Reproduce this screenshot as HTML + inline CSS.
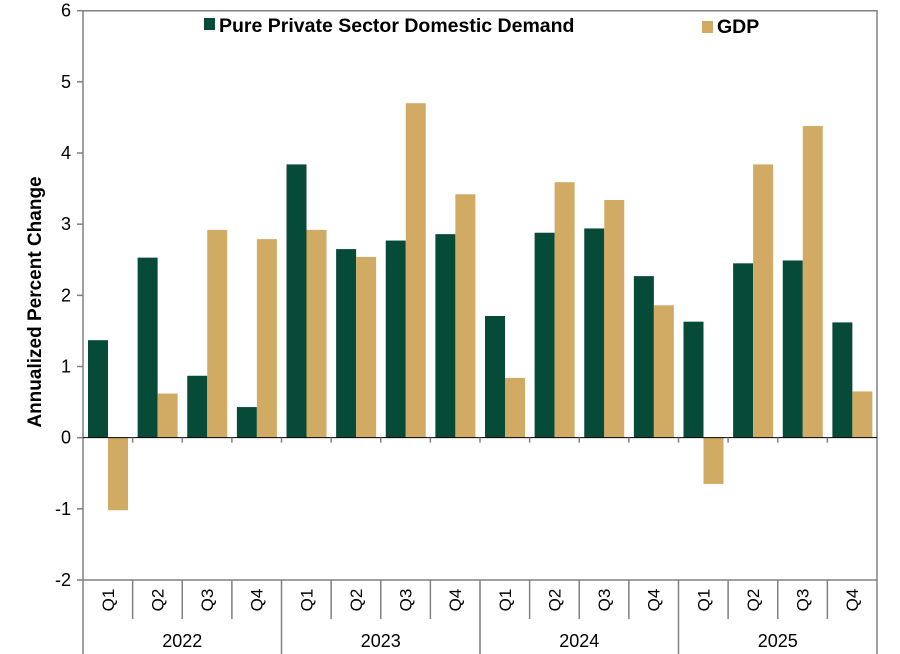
<!DOCTYPE html>
<html><head><meta charset="utf-8"><style>body{margin:0;background:#fff}svg{display:block;font-family:"Liberation Sans",Arial,sans-serif}</style></head>
<body>
<svg id="c" width="900" height="654"></svg>
<script>
const categories=["Q1","Q2","Q3","Q4","Q1","Q2","Q3","Q4","Q1","Q2","Q3","Q4","Q1","Q2","Q3","Q4"];
const years=["2022","2023","2024","2025"];
const privateDemand=[1.37,2.53,0.87,0.43,3.84,2.65,2.77,2.86,1.71,2.88,2.94,2.27,1.63,2.45,2.49,1.62];
const gdp=[-1.02,0.62,2.92,2.79,2.92,2.54,4.70,3.42,0.84,3.59,3.34,1.86,-0.65,3.84,4.38,0.65];
const yTicks=[6,5,4,3,2,1,0,-1,-2];
const NS="http://www.w3.org/2000/svg";
const svg=document.getElementById('c');
const L=83,R=877,T=10.7,B=580,yMin=-2,yMax=6;
const y=v=>B-(v-yMin)/(yMax-yMin)*(B-T);
const cw=(R-L)/categories.length;
const x=i=>L+i*cw;
function mk(t,a,txt){const e=document.createElementNS(NS,t);for(const k in a)e.setAttribute(k,a[k]);if(txt!==undefined)e.textContent=txt;svg.appendChild(e);return e;}
privateDemand.forEach((v,i)=>{const y0=y(0),yv=y(v);
const r=mk('rect',{x:x(i)+5,y:Math.min(y0,yv),width:20,height:Math.abs(yv-y0),fill:'#064a38'});

});
gdp.forEach((v,i)=>{const y0=y(0),yv=y(v);
const r=mk('rect',{x:x(i)+25,y:Math.min(y0,yv),width:20,height:Math.abs(yv-y0),fill:'#d1aa63'});

});
mk('path',{d:`M${L},${T}H${R}V${B}`,fill:'none',stroke:'#808080','stroke-width':1.5});
mk('line',{x1:L,y1:T,x2:L,y2:654,stroke:'#808080','stroke-width':1.5});
mk('line',{x1:L,y1:B,x2:R,y2:B,stroke:'#808080','stroke-width':1.5});
mk('line',{x1:L,y1:y(0),x2:R,y2:y(0),stroke:'#000','stroke-width':1});
yTicks.forEach(v=>{mk('line',{x1:L-6,y1:y(v),x2:L,y2:y(v),stroke:'#808080','stroke-width':1.5});
const t=mk('text',{x:L-12,y:y(v)+6,'text-anchor':'end','font-size':18,fill:'#000'},v);

});
categories.forEach((c,i)=>{
 if(i>0){const yr=i%4===0;mk('line',{x1:x(i),y1:y(0),x2:x(i),y2:y(0)+5,stroke:'#808080','stroke-width':1.5});
 mk('line',{x1:x(i),y1:B,x2:x(i),y2:yr?654:619,stroke:'#808080','stroke-width':1.5});}
 const cx=x(i)+cw/2+6;
 const t=mk('text',{x:cx,y:600,'font-size':17,'text-anchor':'middle',transform:`rotate(-90 ${cx} 600)`,fill:'#000'},c);
 
 });
mk('line',{x1:R,y1:B,x2:R,y2:654,stroke:'#808080','stroke-width':1.5});
years.forEach((yv,j)=>{const t=mk('text',{x:x(j*4)+2*cw,y:647,'font-size':18,'text-anchor':'middle',fill:'#000'},yv);

});
const yt=mk('text',{x:41,y:302,'font-size':19,'font-weight':'bold','text-anchor':'middle',transform:'rotate(-90 41 302)'},'Annualized Percent Change');


const l1=mk('rect',{x:204,y:18,width:11,height:12,fill:'#064a38'});
const lt1=mk('text',{x:219,y:32,'font-size':19.5,'font-weight':'bold'},'Pure Private Sector Domestic Demand');


const l2=mk('rect',{x:702,y:21,width:11,height:12,fill:'#d1aa63'});
const lt2=mk('text',{x:717,y:33,'font-size':19.5,'font-weight':'bold'},'GDP');


</script>
</body></html>
